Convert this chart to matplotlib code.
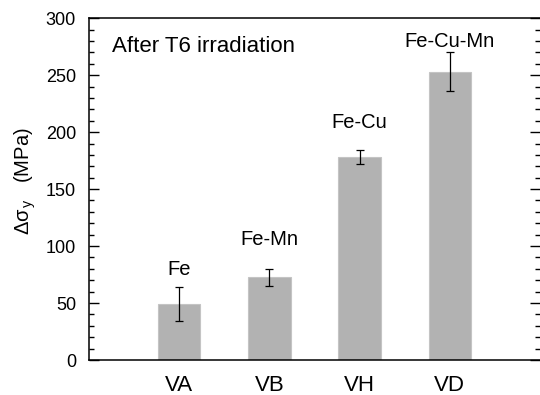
import matplotlib
matplotlib.use("Agg")
import matplotlib.pyplot as plt
from matplotlib.ticker import MultipleLocator

plt.rcParams['font.family'] = ['Liberation Sans', 'DejaVu Sans']
plt.rcParams['mathtext.fontset'] = 'custom'
plt.rcParams['mathtext.rm'] = 'Liberation Sans'
plt.rcParams['mathtext.it'] = 'Liberation Sans'

categories = ["VA", "VB", "VH", "VD"]
alloys = ["Fe", "Fe-Mn", "Fe-Cu", "Fe-Cu-Mn"]
delta_sigma = [49.5, 72.5, 178, 253]
errors = [15, 7.5, 6, 17]

fig = plt.figure(figsize=(5.4, 3.95), dpi=100)
ax = fig.add_axes([0.165, 0.0886, 0.835, 0.8654])

x = list(range(len(categories)))
ax.bar(x, delta_sigma, width=0.47, color='#b2b2b2', edgecolor='#c4c4c4', linewidth=0.8, zorder=2)
ax.errorbar(x, delta_sigma, yerr=errors, fmt='none', ecolor='black', elinewidth=0.9,
            capsize=2.6, capthick=0.9, zorder=3)

label_offsets = [10.3, 20.7, 20, 5]
for xi, v, e, name, off in zip(x, delta_sigma, errors, alloys, label_offsets):
    ax.text(xi, v + e + off, name, ha='center', va='baseline', fontsize=14.5)

ax.set_xlim(-1, 4)
ax.set_ylim(0, 300)
ax.set_xticks(x)
ax.set_xticklabels(categories, fontsize=16)
ax.yaxis.set_major_locator(MultipleLocator(50))
ax.yaxis.set_minor_locator(MultipleLocator(10))
ax.tick_params(axis='y', which='both', direction='in', left=True, right=True,
               labelsize=13, pad=9.4)
ax.tick_params(axis='y', which='major', length=7, width=1)
ax.tick_params(axis='y', which='minor', length=3.5, width=1)
ax.tick_params(axis='x', which='both', length=0, pad=10.5)
ax.spines['right'].set_visible(False)
for s in ['left', 'bottom', 'top']:
    ax.spines[s].set_linewidth(1.1)

ax.set_ylabel(r'$\Delta\sigma_{\,y}$   (MPa)', fontsize=14.5)
ax.yaxis.set_label_coords(-0.113, 0.523)
ax.text(0.05, 0.9, 'After T6 irradiation', transform=ax.transAxes, fontsize=16,
        ha='left', va='baseline')

fig.savefig('out.png', dpi=100)
